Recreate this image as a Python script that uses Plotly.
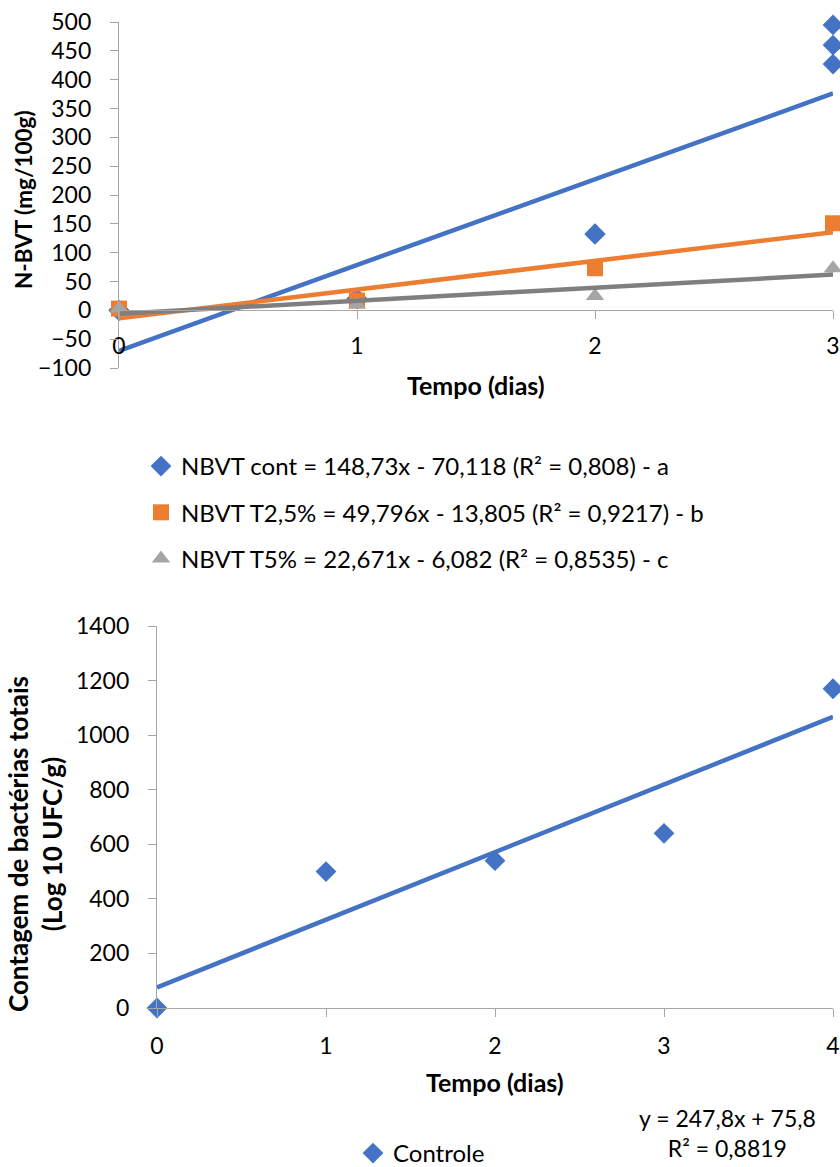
import plotly.graph_objects as go

# ---------------- data ----------------
# Top chart: N-BVT (mg/100g) vs tempo (dias)
days_top = [0, 1, 2, 3]
cont_x = [0, 0, 0, 1, 1, 1, 2, 2, 2, 3, 3, 3]
cont_y = [0, 0, 0, 20, 20, 20, 132, 132, 133, 495, 460, 427]
t25_x = [0, 1, 2, 3]
t25_y = [3, 17, 73, 151]
t5_x = [0, 1, 2, 3]
t5_y = [3, 10, 25, 73]

# trendline coefficients (slope, intercept) as shown in legend
cont_fit = (148.73, -70.118)
t25_fit = (49.796, -13.805)
t5_fit = (22.671, -6.082)

names_top = [
    "NBVT cont = 148,73x - 70,118 (R² = 0,808) - a",
    "NBVT T2,5% = 49,796x - 13,805 (R² = 0,9217) - b",
    "NBVT T5% = 22,671x - 6,082 (R² = 0,8535) - c",
]

# Bottom chart: contagem de bactérias totais
days_bot = [0, 1, 2, 3, 4]
ctrl_y = [0, 500, 540, 640, 1170]
ctrl_fit = (247.8, 75.8)
eq_text = "y = 247,8x + 75,8<br>R² = 0,8819"

ytick_top = [-100, -50, 0, 50, 100, 150, 200, 250, 300, 350, 400, 450, 500]
ytick_bot = [0, 200, 400, 600, 800, 1000, 1200, 1400]

# ---------------- styling ----------------
W, H = 840, 1167
FONT = "Lato"
FS = 23
FL = 24
FT = 25
BLUE, ORANGE, GREY_M, GREY_L = "#4472C4", "#ED7D31", "#A5A5A5", "#7F7F7F"
AXC = "#A6A6A6"


def fx(px):
    return px / W


def fy(py):
    return 1 - py / H


fig = go.Figure()

# markers (top)
fig.add_trace(go.Scatter(x=cont_x, y=cont_y, mode="markers", name=names_top[0],
                         marker=dict(symbol="diamond", size=16, color=BLUE),
                         legendgroup="a", cliponaxis=False, xaxis="x", yaxis="y"))
fig.add_trace(go.Scatter(x=t25_x, y=t25_y, mode="markers", name=names_top[1],
                         marker=dict(symbol="square", size=16, color=ORANGE),
                         legendgroup="b", cliponaxis=False, xaxis="x", yaxis="y"))
fig.add_trace(go.Scatter(x=t5_x, y=t5_y, mode="markers", name=names_top[2],
                         marker=dict(symbol="triangle-up", size=16, color=GREY_M),
                         legendgroup="c", cliponaxis=False, xaxis="x", yaxis="y"))

# trendlines (top)
for (m, b), col in [(cont_fit, BLUE), (t25_fit, ORANGE), (t5_fit, GREY_L)]:
    xs = [days_top[0], days_top[-1]]
    fig.add_trace(go.Scatter(x=xs, y=[m * v + b for v in xs], mode="lines",
                             line=dict(color=col, width=4.5), showlegend=False,
                             hoverinfo="skip", cliponaxis=False, xaxis="x", yaxis="y"))

# bottom chart
fig.add_trace(go.Scatter(x=days_bot, y=ctrl_y, mode="markers", name="Controle",
                         marker=dict(symbol="diamond", size=16, color=BLUE),
                         cliponaxis=False, legend="legend2", xaxis="x2", yaxis="y2"))
xs = [days_bot[0], days_bot[-1]]
fig.add_trace(go.Scatter(x=xs, y=[ctrl_fit[0] * v + ctrl_fit[1] for v in xs], mode="lines",
                         line=dict(color=BLUE, width=4.5), showlegend=False,
                         hoverinfo="skip", cliponaxis=False, legend="legend2",
                         xaxis="x2", yaxis="y2"))

# axes geometry
top_y0, top_y1 = 22, 368        # pixel rows for 500 and -100
top_ymin, top_ymax = ytick_top[0], ytick_top[-1]
zero_px = top_y0 + (top_ymax - 0) / (top_ymax - top_ymin) * (top_y1 - top_y0)

tickfont = dict(family=FONT, size=FS, color="black")
common_ax = dict(showgrid=False, zeroline=False, showline=True, linecolor=AXC,
                 linewidth=1.3, ticks="outside", ticklen=8, tickcolor=AXC,
                 tickwidth=1.3, tickfont=tickfont, fixedrange=True, automargin=False)

fig.update_layout(
    template="none",
    width=W, height=H,
    margin=dict(l=0, r=0, t=0, b=0, autoexpand=False),
    paper_bgcolor="white", plot_bgcolor="white",
    font=dict(family=FONT, size=FS, color="black"),
    xaxis=dict(domain=[fx(119), fx(833)], range=[0, 3], tickvals=days_top,
               anchor="free", position=fy(zero_px), ticklabelstandoff=7, **common_ax),
    yaxis=dict(domain=[fy(top_y1), fy(top_y0)], range=[top_ymin, top_ymax],
               tickvals=ytick_top, ticklabelstandoff=14, anchor="x", **common_ax),
    xaxis2=dict(domain=[fx(157), fx(833)], range=[0, 4], tickvals=days_bot,
                anchor="y2", ticklabelstandoff=9, **common_ax),
    yaxis2=dict(domain=[fy(1008), fy(626)], range=[0, 1400], tickvals=ytick_bot,
                anchor="x2", ticklabelstandoff=14, **common_ax),
    showlegend=True,
    legend=dict(x=fx(141), y=fy(444), xanchor="left", yanchor="top",
                traceorder="grouped", tracegroupgap=12, bgcolor="rgba(0,0,0,0)",
                font=dict(family=FONT, size=FL, color="black")),
    legend2=dict(x=fx(353), y=fy(1131), xanchor="left", yanchor="top",
                 bgcolor="rgba(0,0,0,0)",
                 font=dict(family=FONT, size=FL, color="black")),
)

ann_font = dict(family=FONT, size=FS, color="black")
common_ann = dict(xref="paper", yref="paper", showarrow=False,
                  xanchor="center", yanchor="middle")
fig.add_annotation(text="<b>N-BVT (mg/100g)</b>", x=fx(23), y=fy(200),
                   textangle=-90, font=dict(family=FONT, size=22.5, color="black"),
                   **common_ann)
fig.add_annotation(text="<b>Tempo (dias)</b>", x=fx(476), y=fy(385),
                   font=dict(family=FONT, size=FT, color="black"), **common_ann)
fig.add_annotation(text="<b>Contagem de bactérias totais<br>(Log 10 UFC/g)</b>",
                   x=fx(35), y=fy(844), textangle=-90,
                   font=dict(family=FONT, size=26, color="black"), **common_ann)
fig.add_annotation(text="<b>Tempo (dias)</b>", x=fx(495), y=fy(1082),
                   font=dict(family=FONT, size=FT, color="black"), **common_ann)
fig.add_annotation(text=eq_text, x=fx(727), y=fy(1133), align="center",
                   font=ann_font, **common_ann)

fig.write_html("out.html", config={"displayModeBar": False},
               post_script="document.body.style.margin='0px';"
                           "document.body.style.overflow='hidden';")
